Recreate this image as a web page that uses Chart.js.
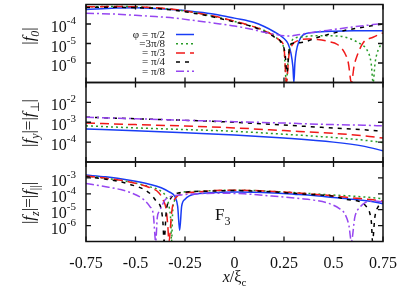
<!DOCTYPE html>
<html>
<head>
<meta charset="utf-8">
<script src="https://cdn.jsdelivr.net/npm/chart.js@4.4.0/dist/chart.umd.min.js"></script>
<style>
  body { margin: 0; background: #fff; }
  #wrap { position: relative; width: 416px; height: 305px; }
  #wrap canvas { position: absolute; left: 0; top: 0; }
</style>
</head>
<body>
<div id="wrap">
  <canvas id="pF0" width="416" height="305"></canvas>
  <canvas id="pFy" width="416" height="305"></canvas>
  <canvas id="pFz" width="416" height="305"></canvas>
</div>
<script>
// axis ticks
const xTicks = [-0.75, -0.5, -0.25, 0, 0.25, 0.5, 0.75];
const xTickText = ['-0.75', '-0.5', '-0.25', '0', '0.25', '0.5', '0.75'];
const f0Decades = [-6, -5, -4];
const fyDecades = [-4, -3, -2];
const fzDecades = [-6, -5, -4, -3];
const phiLabels = ['\u03c6 = \u03c0/2', '=3\u03c0/8', '= \u03c0/3', '= \u03c0/4', '= \u03c0/8'];

// |f0|
const x0Pi2 = [-0.75, -0.6, -0.5, -0.4, -0.3, -0.2, -0.1, 0, 0.1, 0.15, 0.2, 0.25, 0.27, 0.285, 0.295, 0.3, 0.305, 0.312, 0.325, 0.345, 0.4, 0.5, 0.6, 0.75];
const f0Pi2 = [5.5e-4, 6.6e-4, 6.8e-4, 6.3e-4, 5.4e-4, 4.3e-4, 3.2e-4, 2.0e-4, 1.2e-4, 7.4e-5, 4.0e-5, 1.8e-5, 1.0e-5, 3.2e-6, 6.3e-7, 1e-7, 1e-6, 4e-6, 1.26e-5, 2.7e-5, 3.7e-5, 4.3e-5, 4.5e-5, 4.5e-5];
const x03Pi8 = [-0.75, -0.6, -0.5, -0.4, -0.3, -0.2, -0.1, 0, 0.1, 0.15, 0.2, 0.23, 0.25, 0.262, 0.272, 0.285, 0.3, 0.35, 0.4, 0.45, 0.53, 0.6, 0.64, 0.67, 0.69, 0.7, 0.71, 0.725, 0.75];
const f03Pi8 = [7.6e-4, 7.9e-4, 7.6e-4, 6.6e-4, 5.4e-4, 3.8e-4, 2.4e-4, 1.35e-4, 7.1e-5, 4.7e-5, 2.5e-5, 1.26e-5, 5e-6, 1e-7, 2e-6, 1e-5, 1.8e-5, 2.2e-5, 2.5e-5, 2.5e-5, 2.4e-5, 1.5e-5, 8.9e-6, 4.5e-6, 1e-6, 1e-7, 1e-6, 4.5e-6, 1.1e-5];
const x0Pi3 = [-0.75, -0.6, -0.5, -0.4, -0.3, -0.2, -0.1, 0, 0.1, 0.15, 0.2, 0.23, 0.25, 0.262, 0.275, 0.29, 0.32, 0.37, 0.42, 0.47, 0.52, 0.555, 0.575, 0.59, 0.605, 0.62, 0.65, 0.7, 0.75];
const f0Pi3 = [7.6e-4, 7.9e-4, 7.6e-4, 6.8e-4, 5.5e-4, 3.8e-4, 2.5e-4, 1.4e-4, 7.1e-5, 4.5e-5, 2.5e-5, 1.4e-5, 6.3e-6, 1e-7, 2.5e-6, 7.9e-6, 1.4e-5, 1.7e-5, 1.6e-5, 1.3e-5, 8.9e-6, 3.5e-6, 1e-6, 1e-7, 7.9e-7, 2.5e-6, 1.1e-5, 2.1e-5, 3.5e-5];
const x0Pi4 = [-0.75, -0.6, -0.5, -0.4, -0.3, -0.2, -0.1, 0, 0.1, 0.15, 0.2, 0.24, 0.255, 0.265, 0.275, 0.29, 0.33, 0.43, 0.5, 0.57, 0.63, 0.7, 0.75];
const f0Pi4 = [7.1e-4, 7.2e-4, 6.9e-4, 6.3e-4, 5.0e-4, 3.5e-4, 2.2e-4, 1.26e-4, 6.8e-5, 4.0e-5, 2.2e-5, 1e-5, 3.2e-6, 3.2e-7, 4e-6, 1e-5, 1.1e-5, 2.2e-5, 3.4e-5, 5e-5, 6.3e-5, 8.3e-5, 1e-4];
const x0Pi8 = [-0.75, -0.6, -0.5, -0.4, -0.3, -0.2, -0.1, 0, 0.1, 0.15, 0.2, 0.25, 0.28, 0.32, 0.4, 0.5, 0.6, 0.7, 0.75];
const f0Pi8 = [3.6e-4, 3.2e-4, 2.8e-4, 2.4e-4, 2.0e-4, 1.5e-4, 1.1e-4, 7.9e-5, 5.0e-5, 3.8e-5, 3.0e-5, 2.5e-5, 2.4e-5, 2.8e-5, 3.8e-5, 5.2e-5, 7.1e-5, 9.3e-5, 1.07e-4];

// |fy| = |f_perp|
const xY = [-0.75, -0.5, -0.25, 0, 0.25, 0.5, 0.65, 0.75];
const fyPi2 = [4.6e-4, 3.7e-4, 3.0e-4, 2.3e-4, 1.6e-4, 1.0e-4, 6.3e-5, 3.7e-5];
const fy3Pi8 = [6.6e-4, 5.2e-4, 4.3e-4, 3.5e-4, 2.5e-4, 1.7e-4, 1.26e-4, 9.5e-5];
const fyPi3 = [9.1e-4, 7.6e-4, 6.5e-4, 5.2e-4, 3.8e-4, 2.75e-4, 2.1e-4, 1.6e-4];
const fyPi4 = [1.8e-3, 1.5e-3, 1.26e-3, 1.0e-3, 7.2e-4, 5.1e-4, 4.2e-4, 3.5e-4];
const fyPi8 = [1.8e-3, 1.5e-3, 1.26e-3, 1.07e-3, 9.1e-4, 7.6e-4, 7.1e-4, 6.6e-4];

// |fz| = |f_par|
const xzPi2 = [-0.75, -0.65, -0.53, -0.43, -0.37, -0.33, -0.3, -0.287, -0.277, -0.267, -0.25, -0.19, -0.1, 0, 0.1, 0.2, 0.3, 0.4, 0.5, 0.6, 0.7, 0.75];
const fzPi2 = [1.5e-3, 1.17e-3, 7.1e-4, 4.0e-4, 2.4e-4, 1.3e-4, 6.3e-5, 1.6e-5, 5e-7, 1.6e-5, 4.5e-5, 1.0e-4, 1.2e-4, 1.3e-4, 1.26e-4, 1.12e-4, 9.5e-5, 7.9e-5, 5.9e-5, 4.5e-5, 3.2e-5, 2.4e-5];
const xz3Pi8 = [-0.75, -0.65, -0.53, -0.43, -0.38, -0.345, -0.33, -0.322, -0.318, -0.312, -0.302, -0.286, -0.2, -0.1, 0, 0.1, 0.2, 0.3, 0.4, 0.5, 0.6, 0.7, 0.75];
const fz3Pi8 = [1.3e-3, 9.5e-4, 5.6e-4, 2.8e-4, 1.7e-4, 6.3e-5, 1.5e-5, 2.1e-6, 1e-7, 9.1e-6, 4.0e-5, 1.05e-4, 1.4e-4, 1.6e-4, 1.66e-4, 1.6e-4, 1.4e-4, 1.2e-4, 1.0e-4, 8.3e-5, 7.1e-5, 5.6e-5, 4.8e-5];
const xzPi3 = [-0.75, -0.65, -0.53, -0.43, -0.38, -0.36, -0.345, -0.337, -0.331, -0.318, -0.31, -0.293, -0.26, -0.19, -0.1, 0, 0.1, 0.2, 0.3, 0.4, 0.5, 0.6, 0.7, 0.75];
const fzPi3 = [1.3e-3, 9.5e-4, 5.6e-4, 2.5e-4, 1.1e-4, 4.0e-5, 1.0e-5, 1.0e-6, 1e-7, 5.6e-6, 2.5e-5, 6.3e-5, 1.05e-4, 1.3e-4, 1.6e-4, 1.7e-4, 1.6e-4, 1.4e-4, 1.17e-4, 9.5e-5, 7.4e-5, 5.5e-5, 4.2e-5, 3.4e-5];
const xzPi4 = [-0.75, -0.65, -0.53, -0.43, -0.394, -0.369, -0.361, -0.356, -0.344, -0.327, -0.293, -0.243, -0.2, -0.1, 0, 0.1, 0.2, 0.3, 0.4, 0.5, 0.566, 0.633, 0.667, 0.684, 0.692, 0.697, 0.709, 0.725, 0.75];
const fzPi4 = [1.2e-3, 8.3e-4, 4.0e-4, 1.12e-4, 3.2e-5, 9.1e-6, 1.3e-6, 1e-7, 9.1e-6, 4.0e-5, 1.05e-4, 1.3e-4, 1.4e-4, 1.5e-4, 1.6e-4, 1.5e-4, 1.3e-4, 1.07e-4, 8.7e-5, 7.1e-5, 4.4e-5, 3.2e-5, 1.5e-5, 5.6e-6, 1.3e-6, 1e-7, 3.5e-6, 1.5e-5, 2.8e-5];
const xzPi8 = [-0.75, -0.65, -0.58, -0.53, -0.46, -0.428, -0.41, -0.398, -0.39, -0.38, -0.369, -0.352, -0.327, -0.25, -0.15, -0.05, 0.05, 0.15, 0.25, 0.33, 0.4, 0.48, 0.53, 0.557, 0.578, 0.59, 0.608, 0.633, 0.66, 0.7, 0.75];
const fzPi8 = [4.5e-4, 2.8e-4, 1.9e-4, 1.26e-4, 4.5e-5, 1.6e-5, 5.0e-6, 1e-7, 3.2e-6, 7.9e-6, 1.5e-5, 4.0e-5, 6.3e-5, 8.9e-5, 1.05e-4, 1.07e-4, 1.0e-4, 7.9e-5, 6.3e-5, 5.0e-5, 4.0e-5, 2.4e-5, 1.17e-5, 5.6e-6, 1e-6, 1e-7, 3.5e-6, 1.4e-5, 2.8e-5, 3.5e-5, 3.2e-5];

const FONT = '"Liberation Serif", "Times New Roman", serif';
const INK = '#111';
const TICK = 5;

// pi/2, 3pi/8, pi/3, pi/4, pi/8
const looks = [
    { color: 'rgb(25, 60, 245)', dash: [] },
    { color: 'rgb(40, 155, 40)', dash: [2, 3] },
    { color: 'rgb(240, 25, 25)', dash: [9, 5] },
    { color: '#000', dash: [4, 5] },
    { color: 'rgb(150, 70, 240)', dash: [8, 3, 2, 3] },
];

const pts = (xs, ys) => xs.map((x, i) => ({ x: x, y: ys[i] }));

const runFont = (r, size) => `${r.it ? 'italic ' : ''}${(r.sub || r.sup) ? Math.round(size * 0.7) : size}px ${FONT}`;

const drawRich = (ctx, runs, x, y, size, align) => {
    let w = 0;
    runs.forEach(r => { ctx.font = runFont(r, size); w += ctx.measureText(r.t).width; });
    let cx = x;
    if (align === 'center') cx -= w / 2;
    if (align === 'right') cx -= w;
    ctx.textAlign = 'left';
    ctx.textBaseline = 'alphabetic';
    runs.forEach(r => {
        ctx.font = runFont(r, size);
        const dy = r.sub ? size * 0.3 : (r.sup ? -size * 0.5 : 0);
        ctx.fillText(r.t, cx, y + dy);
        cx += ctx.measureText(r.t).width;
    });
};

const makeFrame = (cfg) => ({
    id: 'frame',
    afterDatasetsDraw(chart) {
        const { ctx, chartArea: a, scales: { x, y } } = chart;
        ctx.save();
        ctx.strokeStyle = INK;
        ctx.fillStyle = INK;
        ctx.lineWidth = 1.5;
        ctx.setLineDash([]);
        ctx.strokeRect(a.left, a.top, a.right - a.left, a.bottom - a.top);

        ctx.lineWidth = 1.3;
        ctx.beginPath();
        xTicks.forEach(v => {
            const px = x.getPixelForValue(v);
            ctx.moveTo(px, a.top); ctx.lineTo(px, a.top + TICK);
            ctx.moveTo(px, a.bottom); ctx.lineTo(px, a.bottom - TICK);
        });
        cfg.decades.forEach(e => {
            const py = y.getPixelForValue(Math.pow(10, e));
            ctx.moveTo(a.left, py); ctx.lineTo(a.left + TICK, py);
            ctx.moveTo(a.right, py); ctx.lineTo(a.right - TICK, py);
        });
        ctx.stroke();

        // y tick labels 10^e
        cfg.decades.forEach(e => {
            const py = y.getPixelForValue(Math.pow(10, e));
            drawRich(ctx, [{ t: '10' }, { t: '-' + (-e), sup: true }], a.left - 10, py + 8, 16, 'right');
        });

        // y title, rotated
        ctx.save();
        ctx.translate(34, cfg.titleY);
        ctx.rotate(-Math.PI / 2);
        drawRich(ctx, cfg.title, 0, 0, 17, 'center');
        ctx.restore();

        if (cfg.legend) {
            phiLabels.forEach((lab, i) => {
                const ly = 34.5 + i * 9.2;
                ctx.font = `11px ${FONT}`;
                ctx.textAlign = 'right';
                ctx.textBaseline = 'middle';
                ctx.fillStyle = INK;
                ctx.fillText(lab, 165, ly + 0.5);
                ctx.strokeStyle = looks[i].color;
                ctx.lineWidth = 1.5;
                ctx.setLineDash(looks[i].dash);
                ctx.beginPath();
                ctx.moveTo(176, ly); ctx.lineTo(194, ly);
                ctx.stroke();
            });
            ctx.setLineDash([]);
        }

        if (cfg.xAxis) {
            ctx.fillStyle = INK;
            xTicks.forEach((v, i) => {
                ctx.font = `16px ${FONT}`;
                ctx.textAlign = 'center';
                ctx.textBaseline = 'alphabetic';
                ctx.fillText(xTickText[i], x.getPixelForValue(v), a.bottom + 26);
            });
            drawRich(ctx, [{ t: 'x', it: true }, { t: '/\u03be' }, { t: 'c', sub: true }], (a.left + a.right) / 2, a.bottom + 40, 16, 'center');
            drawRich(ctx, [{ t: 'F' }, { t: '3', sub: true }], 215, 220, 17, 'left');
        }
        ctx.restore();
    }
});

const makePanel = (id, series, yMin, yMax, top, bottom, cfg) => {
    const datasets = series.map((s, i) => ({
        data: pts(s[0], s[1]),
        borderColor: looks[i].color,
        borderDash: looks[i].dash,
        borderWidth: 1.5,
        pointRadius: 0,
        fill: false,
        cubicInterpolationMode: 'monotone',
        order: series.length - i,
    }));
    return new Chart(document.getElementById(id).getContext('2d'), {
        type: 'line',
        data: { datasets: datasets },
        options: {
            responsive: false,
            animation: false,
            devicePixelRatio: 1,
            layout: { padding: { left: 86, right: 33, top: top, bottom: 305 - bottom } },
            plugins: { legend: { display: false }, tooltip: { enabled: false } },
            scales: {
                x: { type: 'linear', min: -0.75, max: 0.75, display: false },
                y: { type: 'logarithmic', min: yMin, max: yMax, display: false },
            },
        },
        plugins: [makeFrame(cfg)],
    });
};

makePanel('pF0',
    [[x0Pi2, f0Pi2], [x03Pi8, f03Pi8], [x0Pi3, f0Pi3], [x0Pi4, f0Pi4], [x0Pi8, f0Pi8]],
    1e-7, 1e-3, 4.5, 82.5,
    { decades: f0Decades, titleY: 36, legend: true,
      title: [{ t: '|' }, { t: 'f', it: true }, { t: '0', it: true, sub: true }, { t: '|' }] });

makePanel('pFy',
    [[xY, fyPi2], [xY, fy3Pi8], [xY, fyPi3], [xY, fyPi4], [xY, fyPi8]],
    1e-5, 1e-1, 82.5, 162,
    { decades: fyDecades, titleY: 123,
      title: [{ t: '|' }, { t: 'f', it: true }, { t: 'y', it: true, sub: true }, { t: '|=|' }, { t: 'f', it: true }, { t: '\u22a5', sub: true }, { t: '|' }] });

makePanel('pFz',
    [[xzPi2, fzPi2], [xz3Pi8, fz3Pi8], [xzPi3, fzPi3], [xzPi4, fzPi4], [xzPi8, fzPi8]],
    1e-7, 1e-2, 162, 241.5,
    { decades: fzDecades, titleY: 203, xAxis: true,
      title: [{ t: '|' }, { t: 'f', it: true }, { t: 'z', it: true, sub: true }, { t: '|=|' }, { t: 'f', it: true }, { t: '||', sub: true }, { t: '|' }] });
</script>
</body>
</html>
